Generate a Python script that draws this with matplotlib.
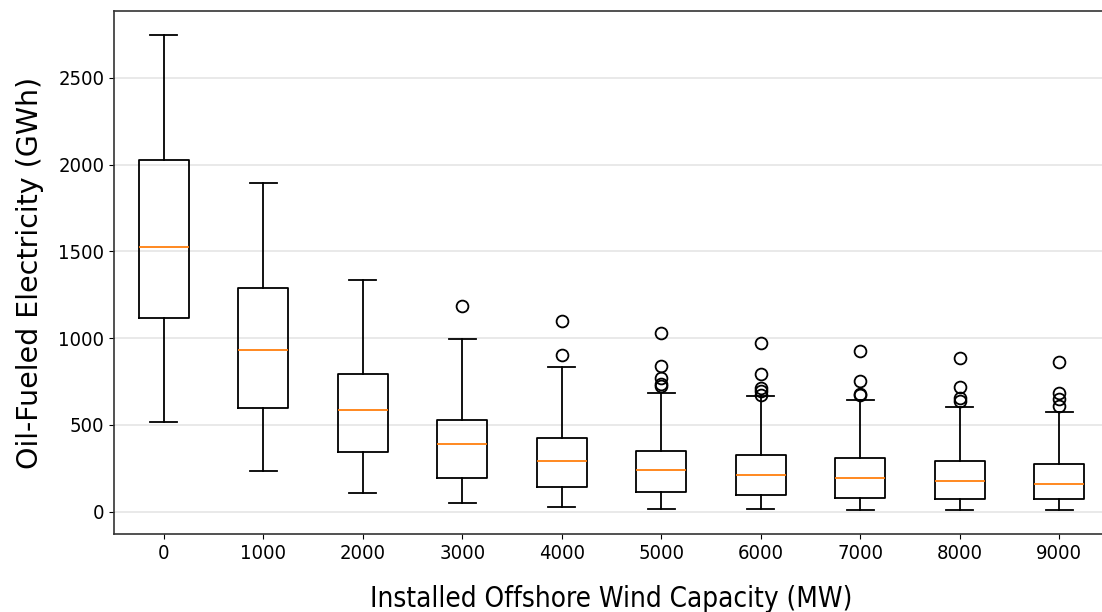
import matplotlib
matplotlib.use("Agg")
import matplotlib.pyplot as plt

# installed offshore wind capacity (MW)
capacity = [0, 1000, 2000, 3000, 4000, 5000, 6000, 7000, 8000, 9000]

# box statistics (GWh)
whislo = [518, 236, 109, 52, 25, 17, 13, 8, 8, 8]
q1 = [1118, 599, 346, 192, 142, 111, 96, 81, 73, 73]
med = [1525, 933, 588, 388, 294, 242, 213, 192, 175, 161]
q3 = [2028, 1290, 795, 528, 422, 350, 326, 307, 290, 276]
whishi = [2748, 1895, 1336, 995, 833, 685, 664, 641, 603, 572]
fliers = [
    [],
    [],
    [],
    [1183],
    [1096, 900],
    [1027, 841, 768, 737, 722],
    [970, 791, 712, 693, 674],
    [925, 755, 678, 670],
    [887, 718, 657, 637],
    [860, 683, 649, 607],
]

stats = []
for i in range(len(capacity)):
    stats.append(dict(whislo=whislo[i], q1=q1[i], med=med[i], q3=q3[i],
                      whishi=whishi[i], fliers=fliers[i]))

fig = plt.figure(figsize=(11.02, 6.12), dpi=100)
ax = fig.add_axes([0.1034, 0.1275, 0.9030, 0.8545])

pos = list(range(1, len(capacity) + 1))
ax.bxp(stats, positions=pos, widths=0.5, capwidths=0.27,
       flierprops=dict(marker='o', markersize=8.5, markerfacecolor='none',
                       markeredgecolor='black', markeredgewidth=1.3),
       medianprops=dict(color='#ff7f0e', linewidth=1.3),
       boxprops=dict(linewidth=1.3),
       whiskerprops=dict(linewidth=1.3),
       capprops=dict(linewidth=1.3))

ax.set_xticks(pos)
ax.set_xticklabels([str(c) for c in capacity])
ax.set_xlim(0.5, len(capacity) + 0.5)

ax.yaxis.grid(True, color='#e3e3e3', linewidth=1.1)
ax.set_axisbelow(True)

for s in ax.spines.values():
    s.set_color('#333333')
    s.set_linewidth(1.2)

for lab in ax.get_xticklabels() + ax.get_yticklabels():
    lab.set_fontsize(14.5)
    lab.set_fontstretch('condensed')

ax.set_xlabel('Installed Offshore Wind Capacity (MW)', fontsize=20,
              fontstretch='condensed', labelpad=16)
ax.set_ylabel('Oil-Fueled Electricity (GWh)', fontsize=20.5, labelpad=10)

fig.savefig('out.png', dpi=100)
